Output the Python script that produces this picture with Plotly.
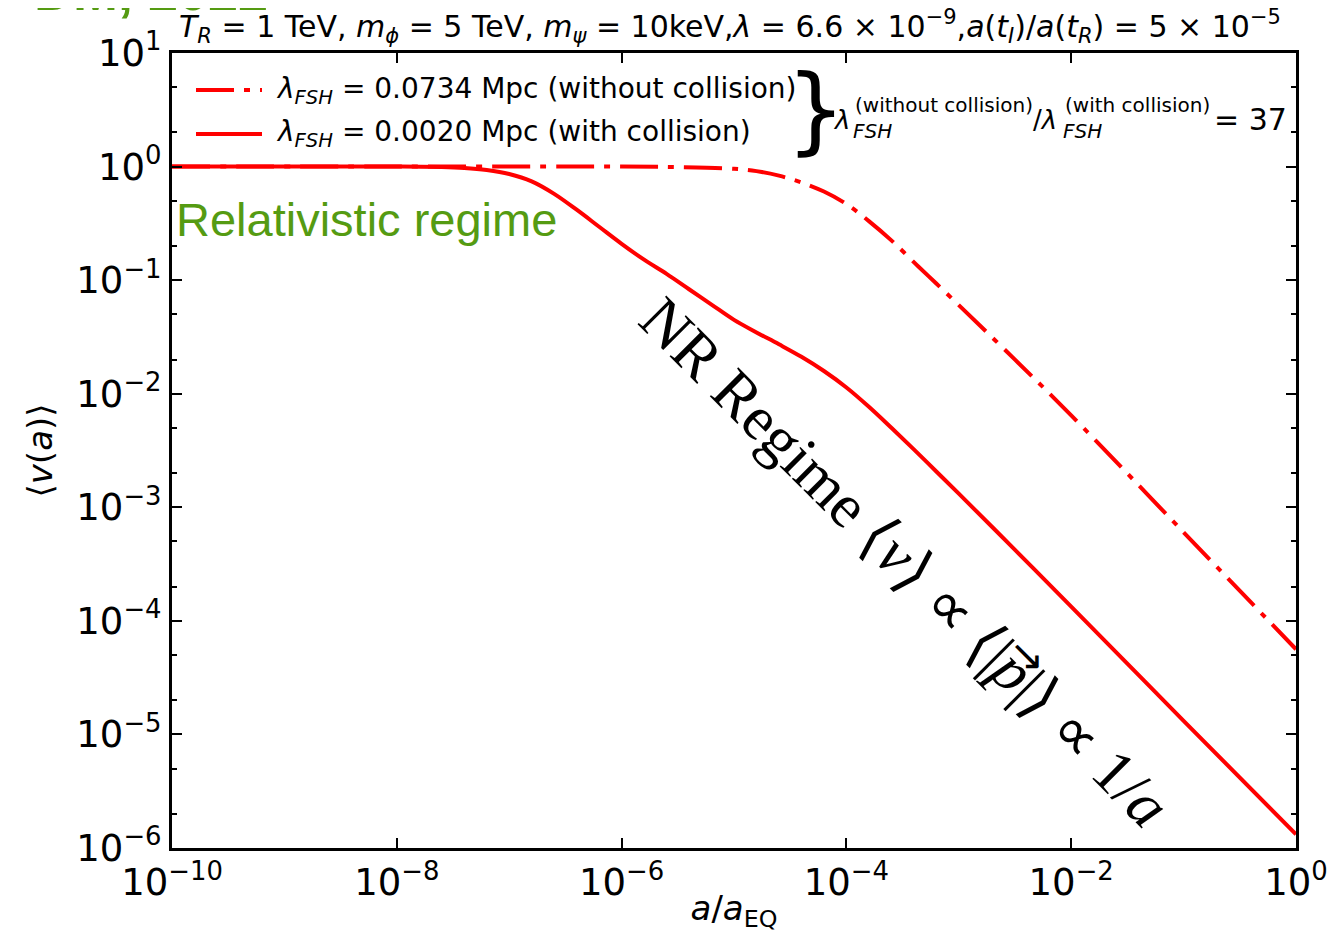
import plotly.graph_objects as go

# ---- data ----
x_with = [-10, -8, -7.6, -7.4, -7.2, -7.0, -6.8, -6.6, -6.4, -6.2, -6.0, -5.8, -5.6, -5.4,
          -5.2, -5.0, -4.8, -4.6, -4.4, -4.2, -4.0, -3.8, -3.6, -3.4, -3.2, -3.0, -2.5, -2.0, -1.0, 0]
y_with = [0, 0, -0.004, -0.012, -0.03, -0.065, -0.13, -0.24, -0.38, -0.53, -0.68, -0.82, -0.945, -1.08,
          -1.215, -1.35, -1.46, -1.565, -1.675, -1.80, -1.945, -2.115, -2.30, -2.49, -2.685, -2.88, -3.375,
          -3.875, -4.88, -5.88]

x_without = [-10, -8, -6, -5.5, -5.0, -4.8, -4.6, -4.4, -4.2, -4.0, -3.8, -3.6, -3.36, -3.2,
             -3.0, -2.5, -2.0, -1.0, 0]
y_without = [0, 0, 0, -0.005, -0.02, -0.04, -0.08, -0.14, -0.22, -0.33, -0.48, -0.65, -0.88, -1.03,
             -1.22, -1.70, -2.19, -3.22, -4.25]

x_tickvals = [-10, -8, -6, -4, -2, 0]
y_tickvals = [-6, -5, -4, -3, -2, -1, 0, 1]

def pw(e):
    return "10<sup>" + (str(e).replace("-", "−")) + "</sup>"

x_ticktext = [pw(e) for e in x_tickvals]
y_ticktext = [pw(e) for e in y_tickvals]

xv_with = [10 ** v for v in x_with]
yv_with = [10 ** v for v in y_with]
xv_without = [10 ** v for v in x_without]
yv_without = [10 ** v for v in y_without]

RED = "#ff0000"
GREEN = "#559b12"
FONT = "DejaVu Sans"
DASHDOT = "38px,10px,6px,10px"

fig = go.Figure()
fig.add_trace(go.Scatter(x=xv_without, y=yv_without, mode="lines", line_shape="spline",
                         name="λ_FSH = 0.0734 Mpc (without collision)",
                         line=dict(color=RED, width=4, dash=DASHDOT)))
fig.add_trace(go.Scatter(x=xv_with, y=yv_with, mode="lines", line_shape="spline",
                         name="λ_FSH = 0.0020 Mpc (with collision)",
                         line=dict(color=RED, width=4)))

# page-pixel geometry of the plot area (page body has an 8px margin)
OFF = 8
L, R, T, B = 172, 1296, 53, 848
W, H = 1336 - 2 * OFF, 941 - 2 * OFF

def px(x):
    return (x - L) / (R - L)

def py(y):
    return (B - y) / (B - T)

ann = []
def add(text, x, y, size, xanchor="left", yanchor="middle", color="black", family=FONT, angle=0):
    ann.append(dict(text=text, x=px(x), y=py(y), xref="paper", yref="paper", showarrow=False,
                    xanchor=xanchor, yanchor=yanchor, textangle=angle,
                    font=dict(size=size, color=color, family=family)))

# title line
add("<i>T<sub>R</sub></i> = 1 TeV, <i>m<sub>ϕ</sub></i> = 5 TeV, <i>m<sub>ψ</sub></i> = 10keV,"
    "<i>λ</i> = 6.6 × 10<sup>−9</sup>,<i>a</i>(<i>t<sub>I</sub></i>)/<i>a</i>(<i>t<sub>R</sub></i>) = 5 × 10<sup>−5</sup>",
    730, 26, 30, xanchor="center")
# cut green header
add("<b>DM, 2022</b>", 270, 23, 54, xanchor="right", yanchor="bottom", color=GREEN,
    family="Liberation Sans")

# legend (manual)
shapes = []
shapes.append(dict(type="line", xref="paper", yref="paper", x0=px(196), x1=px(262), y0=py(90), y1=py(90),
                   line=dict(color=RED, width=4, dash=DASHDOT)))
shapes.append(dict(type="line", xref="paper", yref="paper", x0=px(196), x1=px(262), y0=py(134), y1=py(134),
                   line=dict(color=RED, width=4)))
add("<i>λ<sub>FSH</sub></i> = 0.0734 Mpc (without collision)", 274, 90, 28)
add("<i>λ<sub>FSH</sub></i> = 0.0020 Mpc (with collision)", 274, 134, 28)

# brace and ratio
add("}", 816, 110, 94, xanchor="center", family="DejaVu Sans")
add("<i>λ</i>", 831, 120, 26)
add("(without collision)", 853, 105, 20)
add("<i>FSH</i>", 851, 131, 20)
add("/<i>λ</i>", 1031, 120, 26)
add("(with collision)", 1063, 105, 20)
add("<i>FSH</i>", 1061, 131, 20)
add("= 37", 1212, 120, 30)

# regime labels
add("Relativistic regime", 174, 220, 47, color=GREEN, family="Liberation Sans")
add("NR Regime ⟨<i>v</i>⟩ ∝ ⟨|<i>p</i>|⟩ ∝ 1/<i>a</i>", 905, 562, 62, xanchor="center",
    family="Liberation Serif", angle=45)
add("→", 1028, 655, 42, xanchor="center", family="DejaVu Sans", angle=45)

fig.update_layout(
    width=W, height=H,
    margin=dict(l=L - OFF, r=W - (R - OFF), t=T - OFF, b=H - (B - OFF), pad=0),
    paper_bgcolor="white", plot_bgcolor="white",
    showlegend=False,
    annotations=ann, shapes=shapes,
    font=dict(family=FONT, color="black"),
)

fig.update_xaxes(type="log", range=[-10, 0], tickvals=[10 ** v for v in x_tickvals], ticktext=x_ticktext,
                 ticks="inside", ticklen=10, tickwidth=2, tickcolor="black", automargin=False,
                 showline=True, linewidth=3, linecolor="black", mirror="ticks",
                 showgrid=False, zeroline=False, tickfont=dict(size=37, family=FONT),
                 title=dict(text="<i>a</i>/<i>a</i><sub>EQ</sub>", font=dict(size=34), standoff=6))
fig.update_yaxes(type="log", range=[-6, 1], tickvals=[10 ** v for v in y_tickvals], ticktext=y_ticktext,
                 ticks="inside", ticklen=10, tickwidth=2, tickcolor="black", automargin=False,
                 minor=dict(ticks="inside", ticklen=5, tickwidth=1.5, tickcolor="black", showgrid=False),
                 showline=True, linewidth=3, linecolor="black", mirror="ticks",
                 showgrid=False, zeroline=False, tickfont=dict(size=37, family=FONT),
                 title=dict(text="⟨<i>v</i>(<i>a</i>)⟩", font=dict(size=34), standoff=14))

fig.write_html("out.html")
